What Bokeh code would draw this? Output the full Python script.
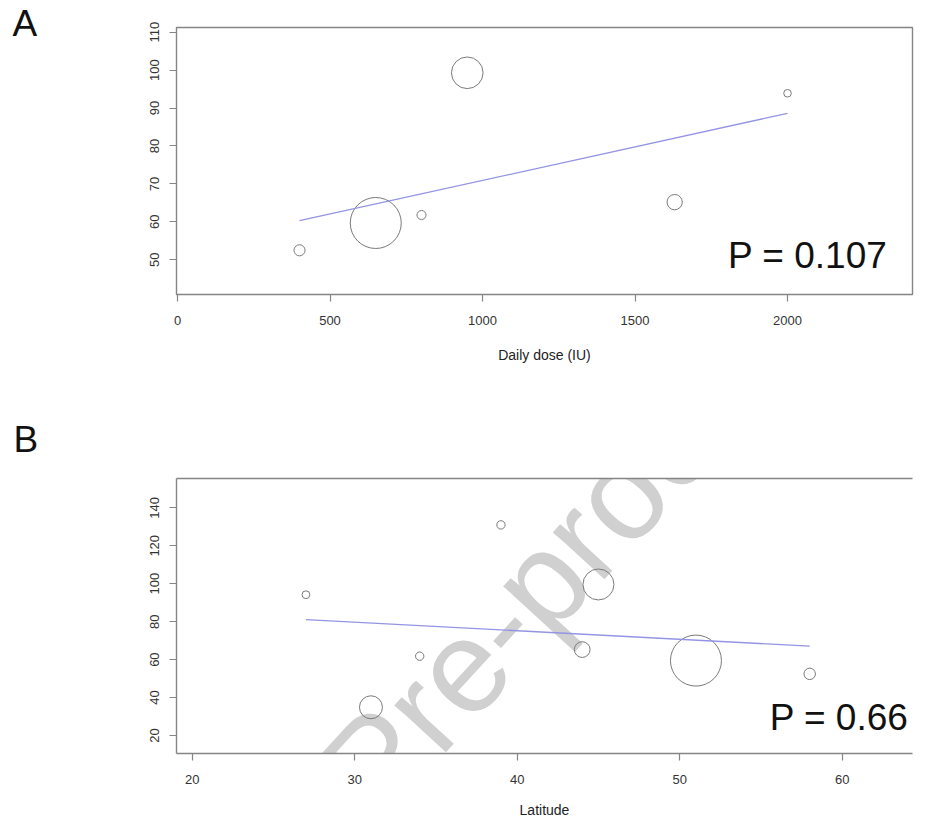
import numpy as np
from bokeh.plotting import figure
from bokeh.models import Label, LinearAxis, FixedTicker, Range1d, ColumnDataSource
from bokeh.layouts import column
from bokeh.embed import file_html
from bokeh.resources import INLINE

# ---------------- data ----------------
# Panel A: meta-regression on daily dose
dose_iu = [400, 650, 800, 950, 1630, 2000]
dose_value = [52.5, 59.7, 61.8, 99.3, 65.2, 93.9]
dose_weight = [3.0, 63.5, 2.0, 24.4, 5.7, 1.4]
dose_fit_intercept = 53.23
dose_fit_slope = 0.01769
dose_p_text = "P = 0.107"
dose_xticks = [0, 500, 1000, 1500, 2000]
dose_yticks = [50, 60, 70, 80, 90, 100, 110]

# Panel B: meta-regression on latitude
lat_deg = [27, 31, 34, 39, 44, 45, 51, 58]
lat_value = [94.2, 34.9, 61.8, 131.0, 65.3, 99.6, 59.5, 52.5]
lat_weight = [1.3, 11.3, 1.5, 1.5, 5.3, 20.6, 55.7, 2.8]
lat_fit_intercept = 93.29
lat_fit_slope = -0.4516
lat_p_text = "P = 0.66"
lat_xticks = [20, 30, 40, 50, 60]
lat_yticks = [20, 40, 60, 80, 100, 120, 140]

# ---------------- style ----------------
FONT = "Liberation Sans"
BOX = "#858585"
TXT = "#333333"
CIRC = "#7a7a7a"
FITC = "#9494e4"
R_MAX = 25.5
WM_ANCHOR = (28.9, 1138.9)   # page px, anchor of watermark text
WM_ANGLE = 47.5
FL, FR = 176, 912            # frame left / right (page px)


def build(xs, ys, ws, a, b, xr, yr, xticks, yticks, xlabel, ptxt, letter,
          height, mbt, mbb, top_page, ptxt_pos, letter_page, boxed):
    ft, fb = mbt, height - mbb          # frame top/bottom in canvas px
    p = figure(width=931, height=height, output_backend="svg", toolbar_location=None,
               x_range=Range1d(*xr), y_range=Range1d(*yr),
               min_border_left=FL, min_border_right=931 - FR, min_border_top=mbt,
               min_border_bottom=mbb, background_fill_color="white",
               border_fill_color="white")
    p.xgrid.visible = False
    p.ygrid.visible = False

    def dx(px):
        return xr[0] + (px - FL) / (FR - FL) * (xr[1] - xr[0])

    def dy(py_page):
        py = py_page - top_page
        return yr[0] + (fb - py) / (fb - ft) * (yr[1] - yr[0])

    # watermark (light grey, diagonal), behind the data
    wm = Label(x=dx(WM_ANCHOR[0]), y=dy(WM_ANCHOR[1]), text="Journal Pre-proof",
               text_font=FONT, text_font_size="132px", text_color="#d0d0d0",
               angle=WM_ANGLE, angle_units="deg", text_align="left",
               text_baseline="alphabetic", level="underlay")
    p.add_layout(wm)

    w = np.array(ws, dtype=float)
    diam = 2 * R_MAX * np.sqrt(w / w.max())
    src = ColumnDataSource(dict(x=xs, y=ys, size=diam))
    p.scatter("x", "y", size="size", source=src, marker="circle",
              fill_color=None, line_color=CIRC, line_width=1.0)

    lx = np.array([min(xs), max(xs)], dtype=float)
    p.line(lx, a + b * lx, line_color=FITC, line_width=1.3)

    for ax in (p.xaxis[0], p.yaxis[0]):
        ax.major_tick_line_color = BOX
        ax.major_tick_line_width = 1.2
        ax.major_tick_out = 7
        ax.major_tick_in = 0
        ax.minor_tick_line_color = None
        ax.major_label_text_font = FONT
        ax.major_label_text_font_size = "13px"
        ax.major_label_text_color = TXT
        ax.axis_line_color = BOX if not boxed else None
        ax.axis_line_width = 1.4
    p.xaxis.major_label_standoff = 14
    p.yaxis.major_label_standoff = 10
    p.xaxis.ticker = FixedTicker(ticks=xticks)
    p.yaxis.ticker = FixedTicker(ticks=yticks)
    p.yaxis.major_label_orientation = "vertical"
    p.xaxis.axis_label = xlabel
    p.xaxis.axis_label_text_font = FONT
    p.xaxis.axis_label_text_font_size = "14px"
    p.xaxis.axis_label_text_font_style = "normal"
    p.xaxis.axis_label_text_color = "#222222"

    if boxed:
        p.outline_line_color = BOX
        p.outline_line_width = 1.4
        p.outline_line_alpha = 1.0
    else:
        p.outline_line_color = None
        top = LinearAxis(ticker=FixedTicker(ticks=[]), axis_line_color=BOX,
                         axis_line_width=1.4, major_tick_line_color=None,
                         minor_tick_line_color=None)
        p.add_layout(top, "above")

    p.add_layout(Label(x=ptxt_pos[0], y=ptxt_pos[1], x_units="screen", y_units="screen",
                       text=ptxt, text_font=FONT, text_font_size="37px",
                       text_color="#111111", text_align="right",
                       text_baseline="alphabetic"))
    # panel letter sits in the left side panel (not clipped to the frame)
    p.add_layout(Label(x=dx(letter_page[0]), y=dy(letter_page[1]),
                       text=letter, text_font=FONT, text_font_size="37px",
                       text_color="#111111", text_align="left",
                       text_baseline="alphabetic"), "left")
    return p


pA = build(dose_iu, dose_value, dose_weight, dose_fit_intercept, dose_fit_slope,
           (-3.3, 2409.8), (40.85, 111.24), dose_xticks, dose_yticks,
           "Daily dose (IU)", dose_p_text, "A",
           height=400, mbt=27, mbb=106, top_page=0,
           ptxt_pos=(711, 39), letter_page=(12, 23), boxed=True)
pA.xaxis.axis_label_standoff = 19

pB = build(lat_deg, lat_value, lat_weight, lat_fit_intercept, lat_fit_slope,
           (19.034, 64.326), (10.54, 155.44), lat_xticks, lat_yticks,
           "Latitude", lat_p_text, "B",
           height=422, mbt=78, mbb=69, top_page=400,
           ptxt_pos=(732, 36), letter_page=(13, 439), boxed=False)
pB.xaxis.axis_label_standoff = 15

layout = column(pA, pB, spacing=0)
open("out.html", "w").write(file_html(layout, INLINE))
